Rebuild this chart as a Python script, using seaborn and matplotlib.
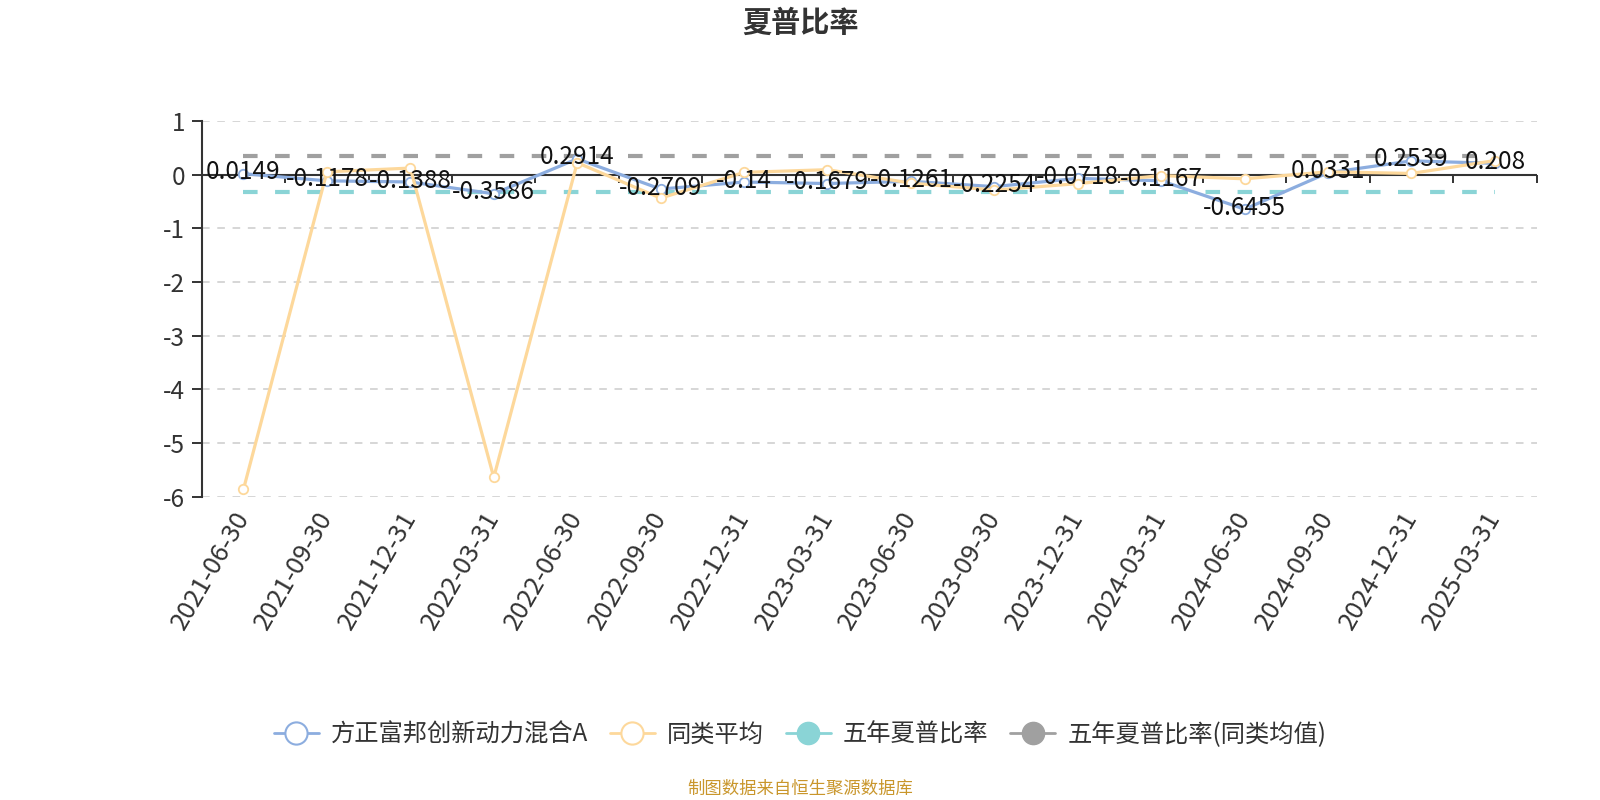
import matplotlib

matplotlib.use("Agg")
import matplotlib.pyplot as plt
import numpy as np
import pandas as pd
import seaborn as sns
from matplotlib.lines import Line2D

sns.set_theme(style="white")
plt.rcParams["font.family"] = ["Noto Sans CJK SC", "DejaVu Sans"]
plt.rcParams["axes.unicode_minus"] = False

dates = [
    "2021-06-30", "2021-09-30", "2021-12-31", "2022-03-31",
    "2022-06-30", "2022-09-30", "2022-12-31", "2023-03-31",
    "2023-06-30", "2023-09-30", "2023-12-31", "2024-03-31",
    "2024-06-30", "2024-09-30", "2024-12-31", "2025-03-31",
]
fund = [0.0149, -0.1178, -0.1388, -0.3586, 0.2914, -0.2709, -0.14, -0.1679,
        -0.1261, -0.2254, -0.0718, -0.1167, -0.6455, 0.0331, 0.2539, 0.208]
peer_avg = [-5.86, 0.05, 0.12, -5.64, 0.22, -0.44, 0.04, 0.09,
            -0.16, -0.29, -0.17, -0.02, -0.08, 0.05, 0.02, 0.26]
five_year = -0.33
five_year_peer = 0.35

names = ["方正富邦创新动力混合A", "同类平均", "五年夏普比率", "五年夏普比率(同类均值)"]
colors = ["#8caddf", "#fdd89b", "#8ad4d6", "#a0a0a0"]
dark = "#333333"

df = pd.DataFrame({"x": np.arange(len(dates)), "fund": fund, "peer": peer_avg})

fig = plt.figure(figsize=(16, 8), dpi=100)
ax = fig.add_axes([0.1261, 0.379, 0.8343, 0.470])

# x axis line sits at zero
ax.axhline(0, color=dark, linewidth=1.5, zorder=1.5)

# horizontal five-year reference lines
ax.hlines(five_year, df["x"].iloc[0], df["x"].iloc[-1], color=colors[2],
          linewidth=3, linestyles=(0, (3.5, 4.2)), zorder=2)
ax.hlines(five_year_peer, df["x"].iloc[0], df["x"].iloc[-1], color=colors[3],
          linewidth=3, linestyles=(0, (3.5, 4.2)), zorder=2)

sns.lineplot(data=df, x="x", y="fund", ax=ax, color=colors[0], linewidth=2.3,
             marker="o", markersize=6.8, markerfacecolor="white",
             markeredgecolor=colors[0], markeredgewidth=1.3, zorder=3)
sns.lineplot(data=df, x="x", y="peer", ax=ax, color=colors[1], linewidth=2.3,
             marker="o", markersize=6.8, markerfacecolor="white",
             markeredgecolor=colors[1], markeredgewidth=1.3, zorder=4)

for xi, v in zip(df["x"], fund):
    ax.annotate(str(v), (xi, v), xytext=(0, 1), textcoords="offset points",
                ha="center", va="center", fontsize=17.5, color="#111111", zorder=6)

ax.set_xlim(-0.5, len(dates) - 0.5)
ax.set_ylim(-6, 1)
ax.set_yticks(range(-6, 2))
ax.set_yticklabels([str(t) for t in range(-6, 2)])
ax.set_xticks(df["x"])
ax.set_xticklabels(dates, rotation=60, ha="right", va="center",
                   rotation_mode="anchor")
ax.tick_params(axis="x", length=0, pad=12, labelsize=18.5, labelcolor=dark)
ax.tick_params(axis="y", length=7, width=1.4, color=dark, pad=5,
               labelsize=17.5, labelcolor=dark, left=True)
ax.set_xlabel("")
ax.set_ylabel("")

for side in ["top", "right", "bottom"]:
    ax.spines[side].set_visible(False)
ax.spines["left"].set_color(dark)
ax.spines["left"].set_linewidth(1.5)

ax.yaxis.grid(True, color="#cccccc", linewidth=1.1, linestyle=(0, (5, 5)))
ax.set_axisbelow(True)

# ticks on category boundaries, hanging down from the zero line
zero_frac = (0 - (-6)) / (1 - (-6))
sec = ax.secondary_xaxis(zero_frac)
sec.xaxis.set_ticks_position("bottom")
sec.set_xticks(np.arange(-0.5, len(dates)))
sec.set_xticklabels([])
sec.tick_params(axis="x", which="both", bottom=True, top=False, length=6,
                width=1.4, color=dark, direction="out")
for side in ["top", "bottom", "left", "right"]:
    sec.spines[side].set_visible(False)

handles = [
    Line2D([], [], color=colors[0], linewidth=2, marker="o", markersize=16,
           markerfacecolor="white", markeredgecolor=colors[0], markeredgewidth=1.5),
    Line2D([], [], color=colors[1], linewidth=2, marker="o", markersize=16,
           markerfacecolor="white", markeredgecolor=colors[1], markeredgewidth=1.5),
    Line2D([], [], color=colors[2], linewidth=2, marker="o", markersize=16,
           markerfacecolor=colors[2], markeredgecolor=colors[2]),
    Line2D([], [], color=colors[3], linewidth=2, marker="o", markersize=16,
           markerfacecolor=colors[3], markeredgecolor=colors[3]),
]
leg = fig.legend(handles, names, loc="center", bbox_to_anchor=(0.5, 1 - 735 / 800),
                 ncol=4, frameon=False, fontsize=17.5, handlelength=1.85,
                 columnspacing=0.9, handletextpad=0.5)
for t in leg.get_texts():
    t.set_color(dark)

fig.text(0.5, 1 - 23 / 800, "夏普比率", ha="center", va="center",
         fontsize=21, fontweight="bold", color=dark)
fig.text(0.5, 1 - 789 / 800, "制图数据来自恒生聚源数据库", ha="center", va="center",
         fontsize=12.5, color="#c9962b")

fig.savefig("out.png", dpi=100)
plt.close()
